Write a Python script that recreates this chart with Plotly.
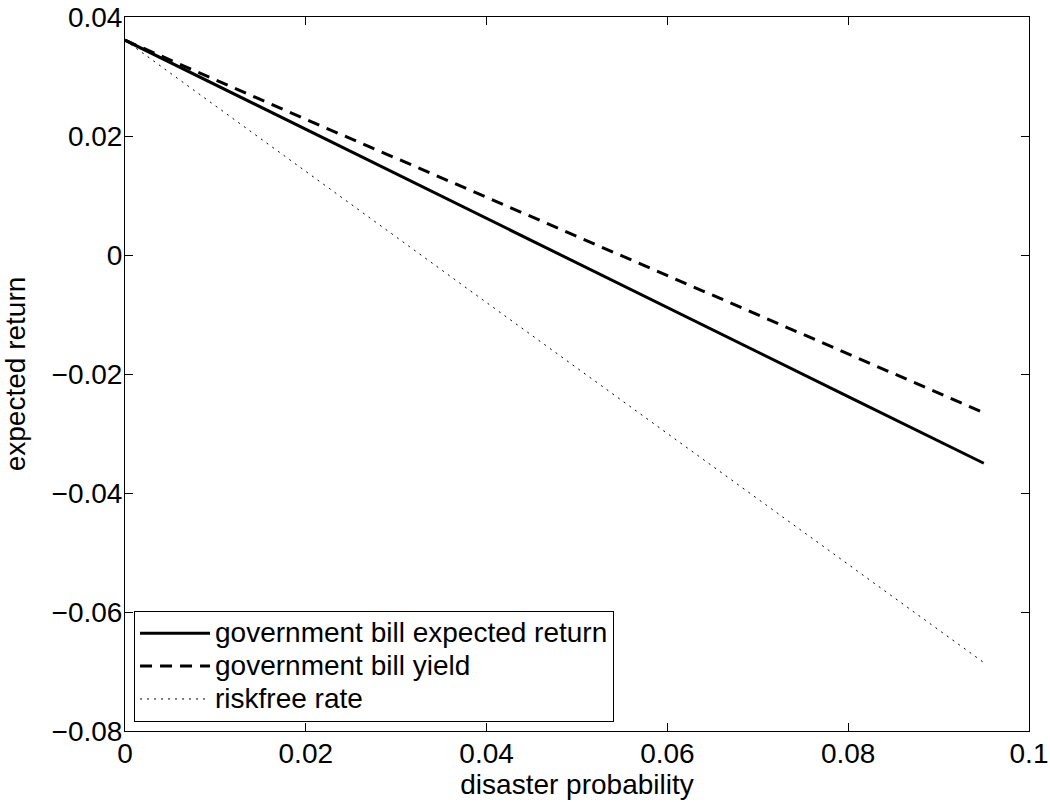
import plotly.graph_objects as go

# data
disaster_prob = [0.0, 0.02, 0.04, 0.06, 0.08, 0.095]
bill_expected_return = [0.0361, 0.0211, 0.0061, -0.0088, -0.0238, -0.0350]
bill_yield = [0.0361, 0.0228, 0.0097, -0.0035, -0.0166, -0.0265]
riskfree_rate = [0.0361, 0.0140, -0.0080, -0.0300, -0.0520, -0.0685]
series_names = ["government bill expected return", "government bill yield", "riskfree rate"]

x_ticks = [0, 0.02, 0.04, 0.06, 0.08, 0.1]
x_tick_labels = ["0", "0.02", "0.04", "0.06", "0.08", "0.1"]
y_ticks = [-0.08, -0.06, -0.04, -0.02, 0, 0.02, 0.04]
y_tick_labels = ["\u22120.08", "\u22120.06", "\u22120.04", "\u22120.02", "0", "0.02", "0.04"]

FONT = "Liberation Sans, Arial, Helvetica, sans-serif"
FS = 28


def legend_label(s):
    # full-size text, while the legend's own (smaller) font sets the tighter row spacing
    return f'<span style="font-size:{FS}px">{s}</span>'


fig = go.Figure()
fig.add_trace(go.Scatter(x=disaster_prob, y=bill_expected_return, mode="lines",
                         name=legend_label(series_names[0]),
                         line=dict(color="black", width=3)))
fig.add_trace(go.Scatter(x=disaster_prob, y=bill_yield, mode="lines",
                         name=legend_label(series_names[1]),
                         line=dict(color="black", width=3, dash="12px,8px")))
fig.add_trace(go.Scatter(x=disaster_prob, y=riskfree_rate, mode="lines",
                         name=legend_label(series_names[2]),
                         line=dict(color="black", width=1, dash="2px,5px")))

axis_common = dict(
    showgrid=False, zeroline=False, showline=True, linecolor="black", linewidth=1,
    mirror="ticks", ticks="inside", ticklen=8, tickwidth=1, tickcolor="black",
    tickfont=dict(family=FONT, size=FS, color="black"),
    ticklabeloverflow="allow",
)

fig.update_xaxes(range=[0, 0.1], tickvals=x_ticks, ticktext=x_tick_labels,
                 ticklabelstandoff=-3,
                 title=dict(text="disaster probability", standoff=0,
                            font=dict(family=FONT, size=FS, color="black")),
                 **axis_common)
fig.update_yaxes(range=[-0.08, 0.04], tickvals=y_ticks, ticktext=y_tick_labels,
                 ticklabelstandoff=-4,
                 title=dict(text="expected return", standoff=22,
                            font=dict(family=FONT, size=FS, color="black")),
                 **axis_common)

fig.update_layout(
    width=1050, height=802,
    margin=dict(l=125, r=21, t=17, b=71, autoexpand=False),
    paper_bgcolor="white", plot_bgcolor="white",
    font=dict(family=FONT, size=FS, color="black"),
    showlegend=True,
    legend=dict(x=0.01, y=0.013, xanchor="left", yanchor="bottom",
                bgcolor="white", bordercolor="black", borderwidth=1,
                font=dict(family=FONT, size=23, color="black"),
                tracegroupgap=0, itemwidth=70),
)

fig.write_html("out.html", config={"displayModeBar": False},
               post_script="document.body.style.margin='0px';document.body.style.overflow='hidden';")
